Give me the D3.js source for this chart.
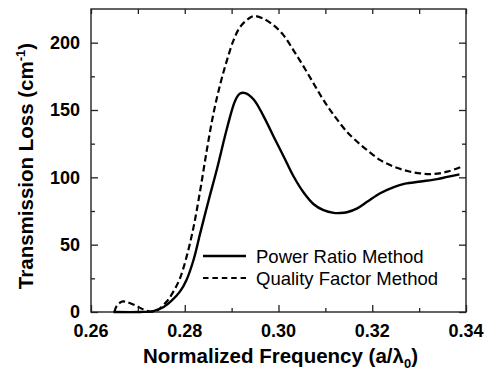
<!DOCTYPE html>
<html>
<head>
<meta charset="utf-8">
<script src="https://cdn.jsdelivr.net/npm/d3@7"></script>
<style>
  body { margin: 0; background: #fff; }
  svg { font-family: "Liberation Sans", Arial, sans-serif; }
</style>
</head>
<body>
<div id="chart"></div>
<script>
// data
var powerX = [0.2648, 0.2705, 0.2733, 0.2755, 0.2772, 0.2790, 0.2804, 0.2819, 0.2833, 0.2851, 0.2869,
  0.2890, 0.2908, 0.2918, 0.2929, 0.2947, 0.2968, 0.2990, 0.3011, 0.3032, 0.3054, 0.3075, 0.3096,
  0.3118, 0.3132, 0.3146, 0.3168, 0.3189, 0.3217, 0.3246, 0.3270, 0.3303, 0.3339, 0.3360, 0.3386];
var powerY = [0, 0, 0.7, 3.7, 8.4, 15.3, 24, 39, 58.6, 83, 106.6,
  136.3, 157.3, 162.2, 162.5, 157.8, 145.5, 130, 115.5, 100.8, 88.5, 80, 75.6,
  73.6, 73.5, 74.1, 77, 81.8, 88.2, 92.8, 95.3, 96.9, 98.7, 100.3, 102.2];

var qualityX = [0.2650, 0.2655, 0.2666, 0.2676, 0.2694, 0.2712, 0.2730, 0.2744, 0.2762, 0.2776, 0.2790,
  0.2804, 0.2819, 0.2833, 0.2847, 0.2861, 0.2876, 0.2890, 0.2904, 0.2918, 0.2936, 0.2948, 0.2968,
  0.2990, 0.3011, 0.3032, 0.3054, 0.3075, 0.3096, 0.3118, 0.3146, 0.3168, 0.3189, 0.3217, 0.3246,
  0.3275, 0.3303, 0.3331, 0.3360, 0.3392];
var qualityY = [0, 4.5, 7.7, 7.4, 5, 1.9, 0.2, 1.9, 8, 15.3, 25.2,
  41.1, 63.4, 90.4, 120, 147, 169.6, 186.9, 201.7, 211.6, 217.8, 219.8, 217.8,
  212.8, 205.4, 194.3, 182, 169.6, 157.3, 146.2, 133.8, 126.4, 120.2, 112.8, 107.9,
  104.7, 102.9, 102.5, 104.2, 108];

var seriesNames = ["Power Ratio Method", "Quality Factor Method"];
var xMajor = [0.26, 0.28, 0.30, 0.32, 0.34];
var xMinor = [0.27, 0.29, 0.31, 0.33];
var yMajor = [0, 50, 100, 150, 200];
var yMinor = [25, 75, 125, 175];

var W = 489, H = 376;
var margin = { top: 9, right: 23, bottom: 64, left: 91 };
var width = W - margin.left - margin.right;
var height = H - margin.top - margin.bottom;

var svg = d3.select("#chart").append("svg").attr("width", W).attr("height", H);
var g = svg.append("g").attr("transform", "translate(" + margin.left + "," + margin.top + ")");

var x = d3.scaleLinear().domain([0.26, 0.34]).range([0, width]);
var y = d3.scaleLinear().domain([0, 225]).range([height, 0]);

// inward ticks on all four sides
var axes = [
  [d3.axisBottom(x), xMajor, xMinor, "translate(0," + height + ")", -7, -4],
  [d3.axisTop(x), xMajor, xMinor, null, -5, -5],
  [d3.axisLeft(y), yMajor, yMinor, null, -7, -4],
  [d3.axisRight(y), yMajor, yMinor, "translate(" + width + ",0)", -7, -4]
];
axes.forEach(function (a) {
  [[a[1], a[4]], [a[2], a[5]]].forEach(function (s) {
    var ax = g.append("g").call(a[0].tickValues(s[0]).tickSize(s[1]).tickFormat(""));
    if (a[3]) ax.attr("transform", a[3]);
    ax.select(".domain").remove();
    ax.selectAll("line").attr("stroke", "#222").attr("stroke-width", 1.3);
  });
});

g.append("rect").attr("width", width).attr("height", height)
  .attr("fill", "none").attr("stroke", "#222").attr("stroke-width", 1.4);

// tick labels
g.selectAll(".xl").data(xMajor).enter().append("text")
  .attr("x", function (d) { return x(d); }).attr("y", height + 25)
  .attr("text-anchor", "middle").attr("font-size", 18).attr("font-weight", "bold")
  .text(function (d) { return d3.format(".2f")(d); });

g.selectAll(".yl").data(yMajor).enter().append("text")
  .attr("x", -11).attr("y", function (d) { return y(d); }).attr("dy", "0.36em")
  .attr("text-anchor", "end").attr("font-size", 18).attr("font-weight", "bold")
  .text(function (d) { return d; });

// axis titles
var xt = svg.append("text").attr("x", margin.left + width / 2 + 2).attr("y", 363)
  .attr("text-anchor", "middle").attr("font-size", 20.5).attr("font-weight", "bold");
xt.append("tspan").text("Normalized Frequency (a/\u03bb");
xt.append("tspan").attr("font-size", 13).attr("dy", 5).text("0");
xt.append("tspan").attr("dy", -5).text(")");

var yt = svg.append("text").attr("transform", "translate(33,166) rotate(-90)")
  .attr("text-anchor", "middle").attr("font-size", 20.5).attr("font-weight", "bold");
yt.append("tspan").text("Transmission Loss (cm");
yt.append("tspan").attr("font-size", 13).attr("dy", -8).text("-1");
yt.append("tspan").attr("dy", 8).text(")");

// curves
var line = d3.line()
  .x(function (d) { return x(d[0]); })
  .y(function (d) { return y(d[1]); })
  .curve(d3.curveCatmullRom.alpha(0.5));

g.append("path").datum(d3.zip(qualityX, qualityY)).attr("d", line)
  .attr("fill", "none").attr("stroke", "#000").attr("stroke-width", 2.2)
  .attr("stroke-dasharray", "6.5,3.5");

g.append("path").datum(d3.zip(powerX, powerY)).attr("d", line)
  .attr("fill", "none").attr("stroke", "#000").attr("stroke-width", 2.4);

// legend
var leg = g.append("g").attr("transform", "translate(112,247)");
seriesNames.forEach(function (name, i) {
  var row = leg.append("g").attr("transform", "translate(0," + (i * 22) + ")");
  row.append("line").attr("x1", 0).attr("x2", 43)
    .attr("stroke", "#000").attr("stroke-width", i ? 2.2 : 2.4)
    .attr("stroke-dasharray", i ? "5.5,3.9" : null);
  row.append("text").attr("x", 53).attr("dy", "0.36em")
    .attr("font-size", 18.5).text(name);
});
</script>
</body>
</html>
